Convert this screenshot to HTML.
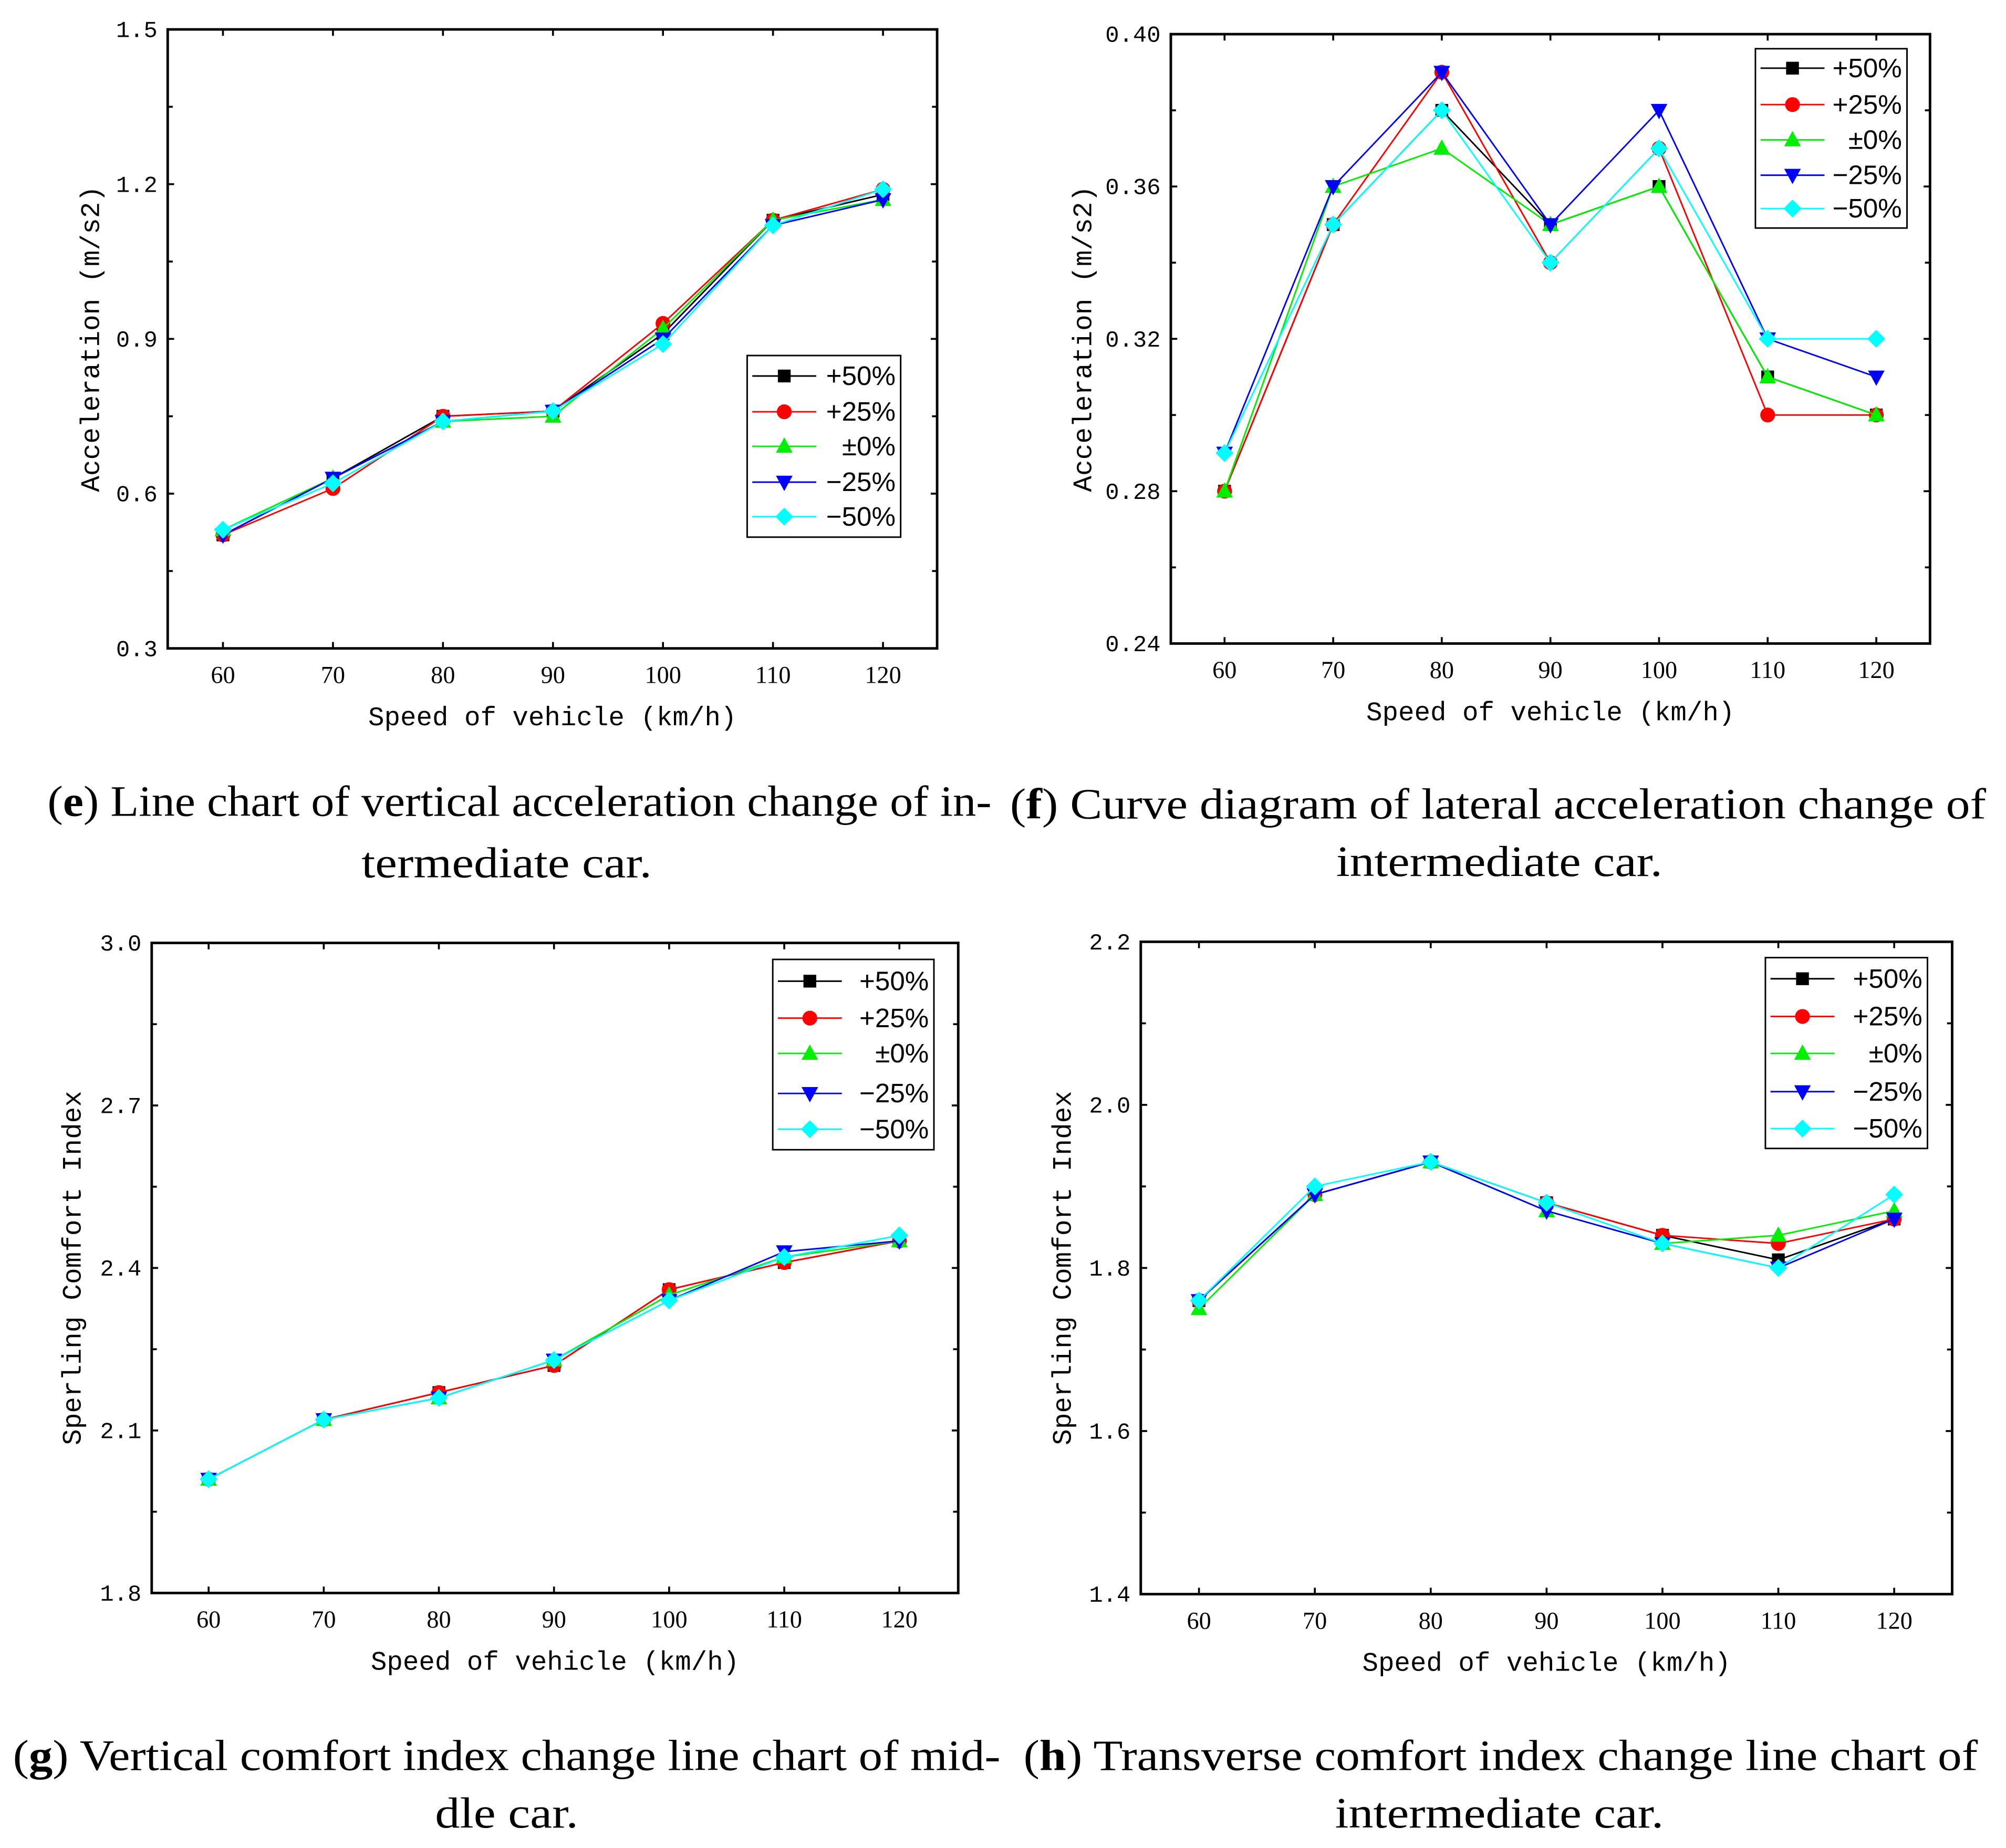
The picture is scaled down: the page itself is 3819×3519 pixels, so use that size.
<!DOCTYPE html>
<html><head><meta charset="utf-8"><style>
html,body{margin:0;padding:0;background:#fff;}
svg{display:block;}
</style></head><body>
<svg id="root" width="3819" height="3519" viewBox="0 0 1568 1445" xmlns="http://www.w3.org/2000/svg">
<rect width="1568" height="1445" fill="#fff"/>
</svg>
<script>
const categories = [60,70,80,90,100,110,120];
const seriesLabels = ['+50%','+25%','\u00B10%','\u221225%','\u221250%'];
// chart e
const eP50 = [0.52,0.63,0.75,0.76,0.91,1.13,1.18];
const eP25 = [0.52,0.61,0.75,0.76,0.93,1.13,1.19];
const eZero = [0.53,0.63,0.74,0.75,0.92,1.13,1.17];
const eM25 = [0.52,0.63,0.74,0.76,0.90,1.12,1.17];
const eM50 = [0.53,0.62,0.74,0.76,0.89,1.12,1.19];
const eTicks = ['0.3','0.6','0.9','1.2','1.5'];
// chart f
const fP50 = [0.28,0.35,0.38,0.35,0.36,0.31,0.30];
const fP25 = [0.28,0.35,0.39,0.34,0.37,0.30,0.30];
const fZero = [0.28,0.36,0.37,0.35,0.36,0.31,0.30];
const fM25 = [0.29,0.36,0.39,0.35,0.38,0.32,0.31];
const fM50 = [0.29,0.35,0.38,0.34,0.37,0.32,0.32];
const fTicks = ['0.24','0.28','0.32','0.36','0.40'];
// chart g
const gP50 = [2.01,2.12,2.17,2.22,2.36,2.41,2.45];
const gP25 = [2.01,2.12,2.17,2.22,2.36,2.41,2.45];
const gZero = [2.01,2.12,2.16,2.23,2.35,2.42,2.45];
const gM25 = [2.01,2.12,2.16,2.23,2.34,2.43,2.45];
const gM50 = [2.01,2.12,2.16,2.23,2.34,2.42,2.46];
const gTicks = ['1.8','2.1','2.4','2.7','3.0'];
// chart h
const hP50 = [1.76,1.89,1.93,1.88,1.84,1.81,1.86];
const hP25 = [1.76,1.89,1.93,1.88,1.84,1.83,1.86];
const hZero = [1.75,1.89,1.93,1.87,1.83,1.84,1.87];
const hM25 = [1.76,1.89,1.93,1.87,1.83,1.80,1.86];
const hM50 = [1.76,1.90,1.93,1.88,1.83,1.80,1.89];
const hTicks = ['1.4','1.6','1.8','2.0','2.2'];

const colors = ['#000000','#ff0000','#00ee00','#0000ff','#00ffff'];
const markers = ['square','circle','up','down','diamond'];
const NS = 'http://www.w3.org/2000/svg';
const root = document.getElementById('root');
function mk(tag, attrs, parent){const e=document.createElementNS(NS,tag);for(const k in attrs)e.setAttribute(k,attrs[k]);(parent||root).appendChild(e);return e;}

function marker(g,type,x,y,c){
  let m;
  if(type==='square') m=mk('rect',{x:x-5,y:y-5,width:10,height:10,fill:c},g);
  else if(type==='circle') m=mk('circle',{cx:x,cy:y,r:5.8,fill:c},g);
  else if(type==='up') m=mk('polygon',{points:`${x},${y-7} ${x+6.5},${y+5} ${x-6.5},${y+5}`,fill:c},g);
  else if(type==='down') m=mk('polygon',{points:`${x},${y+7} ${x+6.5},${y-5} ${x-6.5},${y-5}`,fill:c},g);
  else m=mk('polygon',{points:`${x},${y-7} ${x+7},${y} ${x},${y+7} ${x-7},${y}`,fill:c},g);
  return m;
}

function chart(cfg){
  const g=mk('g',{});
  
  
  const ymin=parseFloat(cfg.ticks[0]), ymax=parseFloat(cfg.ticks[cfg.ticks.length-1]);
  const xs=v=>cfg.x60+(v-categories[0])/(categories[6]-categories[0])*(cfg.x120-cfg.x60);
  const ys=v=>cfg.bottom-(v-ymin)/(ymax-ymin)*(cfg.bottom-cfg.top);
  const tg=mk('g',{stroke:'#000','stroke-width':1.5},g);
  
  
  const nT=cfg.ticks.length;
  for(let i=0;i<nT;i++){
    const v=parseFloat(cfg.ticks[i]);const y=ys(v);
    mk('line',{x1:cfg.left,y1:y,x2:cfg.left+5,y2:y},tg);
    mk('line',{x1:cfg.right,y1:y,x2:cfg.right-5,y2:y},tg);
    if(i<nT-1){const vm=(v+parseFloat(cfg.ticks[i+1]))/2;const ym=ys(vm);
      mk('line',{x1:cfg.left,y1:ym,x2:cfg.left+4,y2:ym},tg);
      mk('line',{x1:cfg.right,y1:ym,x2:cfg.right-4,y2:ym},tg);}
    const t=mk('text',{x:cfg.left-8,y:y+6,'text-anchor':'end','font-family':'Liberation Mono, monospace','font-size':18,fill:'#000',stroke:'none'},g);
    t.textContent=cfg.ticks[i];
    
    
  }
  categories.forEach(c=>{
    const x=xs(c);
    mk('line',{x1:x,y1:cfg.bottom,x2:x,y2:cfg.bottom-5},tg);
    mk('line',{x1:x,y1:cfg.top,x2:x,y2:cfg.top+5},tg);
    const t=mk('text',{x:x,y:cfg.bottom+27,'text-anchor':'middle','font-family':'Liberation Serif, serif','font-size':19,fill:'#000'},g);
    t.textContent=c;
    
    
  });
  cfg.series.forEach((s,i)=>{
    const sg=mk('g',{},g);
    
    
    const pts=s.map((v,j)=>xs(categories[j])+','+ys(v)).join(' ');
    const pl=mk('polyline',{points:pts,fill:'none',stroke:colors[i],'stroke-width':1.2},sg);
    
    
    s.forEach((v,j)=>{const m=marker(sg,markers[i],xs(categories[j]),ys(v),colors[i]);
      
      });
  });
  const fr=mk('rect',{x:cfg.left,y:cfg.top,width:cfg.right-cfg.left,height:cfg.bottom-cfg.top,fill:'none',stroke:'#000','stroke-width':2},g);
  
  
  const lg=mk('g',{},g);
  
  
  const L=cfg.legend;
  mk('rect',{x:L.x0,y:L.y0,width:L.x1-L.x0,height:L.y1-L.y0,fill:'#fff',stroke:'#000','stroke-width':1.2},lg);
  L.rows.forEach((ry,i)=>{
    const eg=mk('g',{},lg);
    
    
    mk('line',{x1:L.x0+4,y1:ry,x2:L.x0+54,y2:ry,stroke:colors[i],'stroke-width':1.2},eg);
    marker(eg,markers[i],L.x0+29,ry,colors[i]);
    const t=mk('text',{x:L.x1-4,y:ry+7,'text-anchor':'end','font-family':'Liberation Sans Narrow, Liberation Sans, sans-serif','font-size':21,fill:'#000'},eg);
    t.textContent=seriesLabels[i];
  });
  const xt=mk('text',{x:(cfg.left+cfg.right)/2,y:cfg.bottom+60,'text-anchor':'middle','font-family':'Liberation Mono, monospace','font-size':21,fill:'#000',textLength:288,lengthAdjust:'spacingAndGlyphs'},g);
  xt.textContent='Speed of vehicle (km/h)';
  
  
  const yc=(cfg.top+cfg.bottom)/2;
  const yt=mk('text',{x:cfg.ylx,y:yc,'text-anchor':'middle','font-family':'Liberation Mono, monospace','font-size':21,fill:'#000',transform:`rotate(-90 ${cfg.ylx} ${yc})`,'dominant-baseline':'central'},g);
  yt.textContent=cfg.ytitle;
  
  
  cfg.caption.forEach((line,i)=>{
    const t=mk('text',{x:cfg.capx[i],y:cfg.capy[i]+11,'text-anchor':'middle','font-family':'Liberation Serif, serif','font-size':34,fill:'#000',textLength:cfg.capw[i],lengthAdjust:'spacingAndGlyphs'},g);
    
    
    if(i===0){const b=document.createElementNS(NS,'tspan');b.textContent='(';t.appendChild(b);
      const bb=document.createElementNS(NS,'tspan');bb.setAttribute('font-weight','bold');bb.textContent=cfg.letter;t.appendChild(bb);
      const r=document.createElementNS(NS,'tspan');r.textContent=') '+line;t.appendChild(r);}
    else t.textContent=line;
  });
}

chart({name:'chart-e-vertical-acceleration',ticks:eTicks,series:[eP50,eP25,eZero,eM25,eM50],
  left:131,right:732.5,top:23,bottom:507,x60:174.2,x120:690.2,ylx:72,ytitle:'Acceleration (m/s2)',
  legend:{x0:584,x1:704,y0:278,y1:420,rows:[294,322,349,377,404]},
  letter:'e',caption:['Line chart of vertical acceleration change of in-','termediate car.'],capx:[406,396],capw:[738,227],capy:[627,675]});
chart({name:'chart-f-lateral-acceleration',ticks:fTicks,series:[fP50,fP25,fZero,fM25,fM50],
  left:915.2,right:1508.7,top:26.7,bottom:503.2,x60:957.2,x120:1466.7,ylx:847.7,ytitle:'Acceleration (m/s2)',
  legend:{x0:1372.2,x1:1490.7,y0:38.1,y1:178.3,rows:[53.3,81.8,109.4,137,163.1]},
  letter:'f',caption:['Curve diagram of lateral acceleration change of','intermediate car.'],capx:[1171,1172],capw:[763,255],capy:[629,674]});
chart({name:'chart-g-vertical-comfort',ticks:gTicks,series:[gP50,gP25,gZero,gM25,gM50],
  left:118.5,right:749,top:737.3,bottom:1245.6,x60:163,x120:703,ylx:57.5,ytitle:'Sperling Comfort Index',
  legend:{x0:604,x1:730,y0:750.2,y1:899,rows:[767.2,796.1,823.7,855,883]},
  letter:'g',caption:['Vertical comfort index change line chart of mid-','dle car.'],capx:[396,396],capw:[772,112],capy:[1373,1418]});
chart({name:'chart-h-transverse-comfort',ticks:hTicks,series:[hP50,hP25,hZero,hM25,hM50],
  left:891.7,right:1526,top:736.4,bottom:1246.5,x60:937.2,x120:1480.7,ylx:831.7,ytitle:'Sperling Comfort Index',
  legend:{x0:1380,x1:1506.7,y0:748.8,y1:898,rows:[765.3,794.8,823.7,853.6,882.5]},
  letter:'h',caption:['Transverse comfort index change line chart of','intermediate car.'],capx:[1173,1172],capw:[746,257],capy:[1373,1418]});
</script>
</body></html>
